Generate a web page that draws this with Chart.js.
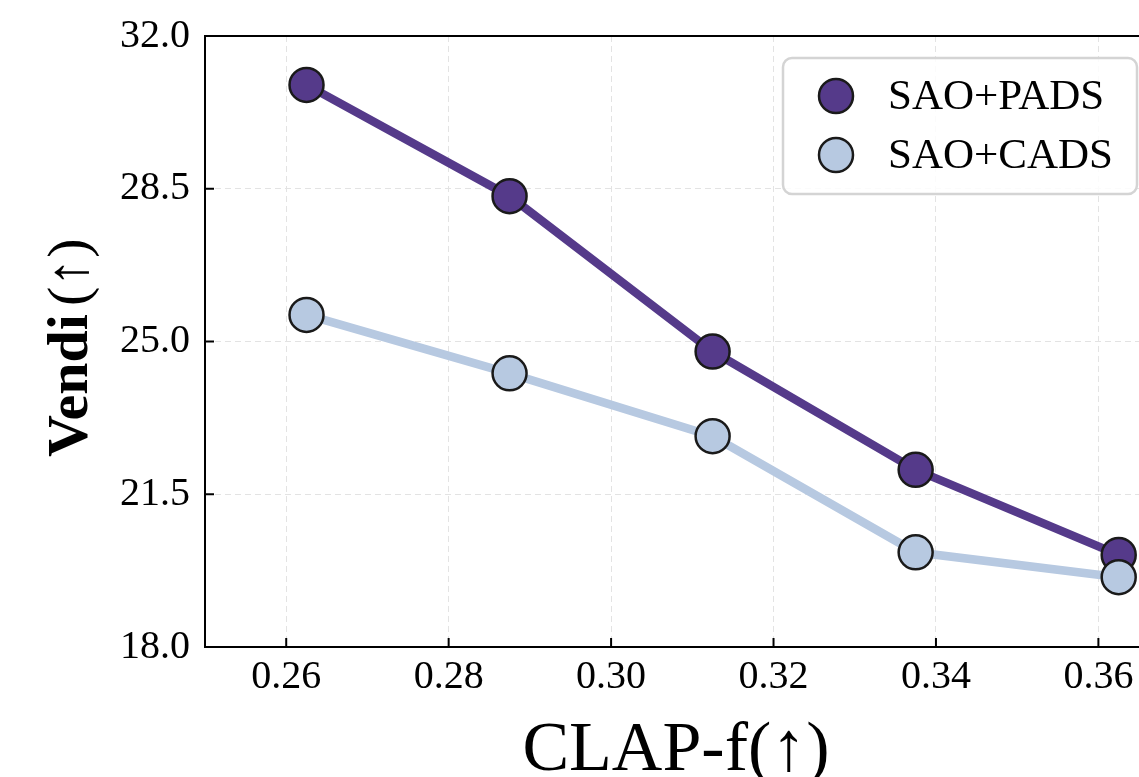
<!DOCTYPE html>
<html>
<head>
<meta charset="utf-8">
<script src="https://cdn.jsdelivr.net/npm/chart.js@4"></script>
<style>
  html, body { margin: 0; padding: 0; background: #fff; }
  #wrap { width: 1139px; height: 777px; position: relative; }
</style>
</head>
<body>
<div id="wrap"><canvas id="myChart"></canvas></div>
<script>
// valores
var clapF = [0.2625, 0.2875, 0.3125, 0.3375, 0.3625];
var vendiPADS = [30.88, 28.33, 24.77, 22.06, 20.11];
var vendiCADS = [25.61, 24.27, 22.83, 20.17, 19.60];
var xTicks = [0.26, 0.28, 0.30, 0.32, 0.34, 0.36];
var yTicks = [18.0, 21.5, 25.0, 28.5, 32.0];

var serif = "'Liberation Serif', 'Times New Roman', serif";
var purple = '#553a8a';
var lightBlue = '#b7c9e1';

function pts(xs, ys) {
  return xs.map(function (x, i) { return { x: x, y: ys[i] }; });
}

// título dos eixos, ticks para dentro, moldura e legenda
var extras = {
  id: 'extras',
  afterDraw: function (chart) {
    var c = chart.ctx, a = chart.chartArea;
    var xs = chart.scales.x, ys = chart.scales.y;
    c.save();
    c.strokeStyle = '#000';
    c.lineWidth = 2;
    // ticks para dentro
    xTicks.forEach(function (v) {
      var px = xs.getPixelForValue(v);
      c.beginPath(); c.moveTo(px, a.bottom); c.lineTo(px, a.bottom - 9); c.stroke();
    });
    yTicks.forEach(function (v) {
      var py = ys.getPixelForValue(v);
      c.beginPath(); c.moveTo(a.left, py); c.lineTo(a.left + 9, py); c.stroke();
    });
    c.strokeRect(a.left, a.top, a.right - a.left + 2, a.bottom - a.top);

    // legenda
    var bx = 783, by = 58, bw = 354, bh = 136;
    c.beginPath();
    c.roundRect(bx, by, bw, bh, 9);
    c.fillStyle = 'rgba(255,255,255,0.85)';
    c.fill();
    c.lineWidth = 2.5;
    c.strokeStyle = '#d4d4d4';
    c.stroke();
    var rows = [96, 155];
    chart.data.datasets.forEach(function (ds, i) {
      c.beginPath();
      c.arc(836, rows[i], 17, 0, Math.PI * 2);
      c.fillStyle = ds.pointBackgroundColor;
      c.fill();
      c.lineWidth = 2.5;
      c.strokeStyle = '#1a1a1a';
      c.stroke();
      c.fillStyle = '#000';
      c.font = '43px ' + serif;
      c.textAlign = 'left';
      c.textBaseline = 'middle';
      c.fillText(ds.label, 888, rows[i] + 2);
    });

    // título eixo x
    c.fillStyle = '#000';
    c.font = '70px ' + serif;
    c.textAlign = 'center';
    c.textBaseline = 'alphabetic';
    c.fillText('CLAP-f(\u2191)', 676, 770);

    // título eixo y (negrito + normal)
    c.translate(87, 457);
    c.rotate(-Math.PI / 2);
    c.textAlign = 'left';
    c.font = 'bold 58px ' + serif;
    c.fillText('Vendi', 0, 0);
    var w = c.measureText('Vendi').width;
    c.font = '58px ' + serif;
    c.fillText('(\u2191)', w + 8, 0);
    c.restore();
  }
};

var ctx = document.getElementById('myChart').getContext('2d');
var myChart = new Chart(ctx, {
  type: 'line',
  data: {
    datasets: [{
      label: 'SAO+PADS',
      data: pts(clapF, vendiPADS),
      borderColor: purple,
      borderWidth: 8.5,
      pointBackgroundColor: purple,
      pointBorderColor: '#1a1a1a',
      pointBorderWidth: 2.5,
      pointRadius: 17,
      order: 1,
      clip: false
    }, {
      label: 'SAO+CADS',
      data: pts(clapF, vendiCADS),
      borderColor: lightBlue,
      borderWidth: 8.5,
      pointBackgroundColor: lightBlue,
      pointBorderColor: '#1a1a1a',
      pointBorderWidth: 2.5,
      pointRadius: 17,
      order: 0,
      clip: false
    }]
  },
  options: {
    responsive: true,
    maintainAspectRatio: false,
    animation: false,
    layout: { autoPadding: false, padding: { top: 36, right: 0, left: 0, bottom: 0 } },
    plugins: { legend: { display: false }, tooltip: { enabled: false } },
    scales: {
      x: {
        type: 'linear',
        min: 0.25,
        max: 0.365,
        afterBuildTicks: function (s) { s.ticks = xTicks.map(function (v) { return { value: v }; }); },
        afterFit: function (s) { s.height = 130; s.paddingLeft = 0; s.paddingRight = 0; },
        grid: { color: '#e3e3e3', lineWidth: 1, drawTicks: false },
        border: { display: false, dash: [6, 4] },
        ticks: {
          padding: 6,
          color: '#000',
          font: { family: serif, size: 40 },
          maxRotation: 0,
          callback: function (v) { return v.toFixed(2); }
        }
      },
      y: {
        min: 18,
        max: 32,
        afterBuildTicks: function (s) { s.ticks = yTicks.map(function (v) { return { value: v }; }); },
        afterFit: function (s) { s.width = 205; s.paddingTop = 0; s.paddingBottom = 0; },
        grid: { color: '#e3e3e3', lineWidth: 1, drawTicks: false },
        border: { display: false, dash: [6, 4] },
        ticks: {
          padding: 15,
          color: '#000',
          font: { family: serif, size: 40 },
          callback: function (v) { return v.toFixed(1); }
        }
      }
    }
  },
  plugins: [extras]
});
</script>
</body>
</html>
